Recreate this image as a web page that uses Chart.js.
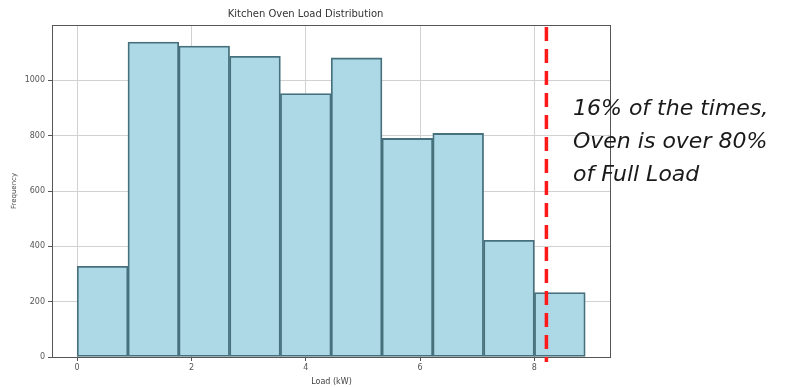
<!DOCTYPE html>
<html lang="en">
<head>
  <meta charset="UTF-8">
  <title>Kitchen Oven Load Distribution</title>
  <style>
    html, body { margin: 0; padding: 0; background: #fff; }
    #wrap { width: 790px; height: 387px; }
  </style>
</head>
<body>
  <div id="wrap">
    <canvas id="myChart" width="790" height="387"></canvas>
  </div>

  <script src="https://cdn.jsdelivr.net/npm/chart.js"></script>

  <script>
    // histogram bins (kW) and counts
    const binEdges = [0, 0.889, 1.778, 2.667, 3.556, 4.444, 5.333, 6.222, 7.111, 8.0, 8.889];
    const counts = [328, 1138, 1124, 1087, 952, 1081, 790, 808, 422, 233];
    const xTicks = [0, 2, 4, 6, 8];
    const yTicks = [0, 200, 400, 600, 800, 1000];
    const thresholdKw = 8.21;
    const noteLines = ['16% of the times,', 'Oven is over 80%', 'of Full Load'];

    const points = counts.map((c, i) => ({ x: (binEdges[i] + binEdges[i + 1]) / 2, y: c }));

    const overlay = {
      id: 'overlay',
      afterDraw(chart) {
        const { ctx, chartArea: a, scales } = chart;
        ctx.save();
        // frame around plot
        ctx.strokeStyle = '#555';
        ctx.lineWidth = 1;
        ctx.strokeRect(a.left + 0.5, a.top + 0.5, a.right - a.left - 1, a.bottom - a.top);
        // threshold line
        const x = scales.x.getPixelForValue(thresholdKw);
        ctx.strokeStyle = '#ff1a1a';
        ctx.lineWidth = 3.5;
        ctx.setLineDash([14, 8]);
        ctx.beginPath();
        ctx.moveTo(x, a.top + 2);
        ctx.lineTo(x, a.bottom + 5);
        ctx.stroke();
        ctx.setLineDash([]);
        // note
        ctx.fillStyle = '#1a1a1a';
        ctx.font = 'italic 22px "DejaVu Sans", sans-serif';
        ctx.textBaseline = 'middle';
        noteLines.forEach((t, i) => ctx.fillText(t, 573, 109 + i * 33));
        ctx.restore();
      }
    };

    const ctx = document.getElementById('myChart').getContext('2d');
    new Chart(ctx, {
      type: 'bar',
      data: {
        datasets: [{
          label: 'Frequency',
          data: points,
          backgroundColor: '#add8e6',
          borderColor: '#46707c',
          borderWidth: 1.8,
          barPercentage: 1,
          categoryPercentage: 1,
          borderSkipped: false
        }]
      },
      options: {
        responsive: false,
        animation: false,
        layout: { padding: { left: 0, right: 179, top: 0, bottom: 0 } },
        plugins: {
          legend: { display: false },
          tooltip: { enabled: false },
          title: {
            display: true,
            text: 'Kitchen Oven Load Distribution',
            color: '#333',
            font: { family: 'DejaVu Sans', size: 10, weight: 'normal' },
            padding: { top: 8, bottom: 5 }
          }
        },
        scales: {
          x: {
            type: 'linear',
            min: -0.44,
            max: 9.34,
            offset: false,
            afterBuildTicks: s => { s.ticks = xTicks.map(v => ({ value: v })); },
            afterFit: s => { s.height = 30; },
            ticks: { color: '#555', font: { family: 'DejaVu Sans', size: 8 }, padding: 2 },
            grid: { offset: false, color: '#d2d2d2', tickColor: '#555', tickLength: 4 },
            border: { display: false },
            title: {
              display: true, text: 'Load (kW)', color: '#444',
              font: { family: 'DejaVu Sans', size: 8 }, padding: { top: 2, bottom: 0 }
            }
          },
          y: {
            min: 0,
            max: 1200,
            afterBuildTicks: s => { s.ticks = yTicks.map(v => ({ value: v })); },
            afterFit: s => { s.width = 52; },
            ticks: {
              color: '#555', font: { family: 'DejaVu Sans', size: 8 }, padding: 3,
              callback: v => String(v)
            },
            grid: { color: '#d2d2d2', tickColor: '#555', tickLength: 4 },
            border: { display: false },
            title: {
              display: true, text: 'Frequency', color: '#444',
              font: { family: 'DejaVu Sans', size: 7 }, padding: { top: 10, bottom: 6 }
            }
          }
        }
      },
      plugins: [overlay]
    });
  </script>
</body>
</html>
